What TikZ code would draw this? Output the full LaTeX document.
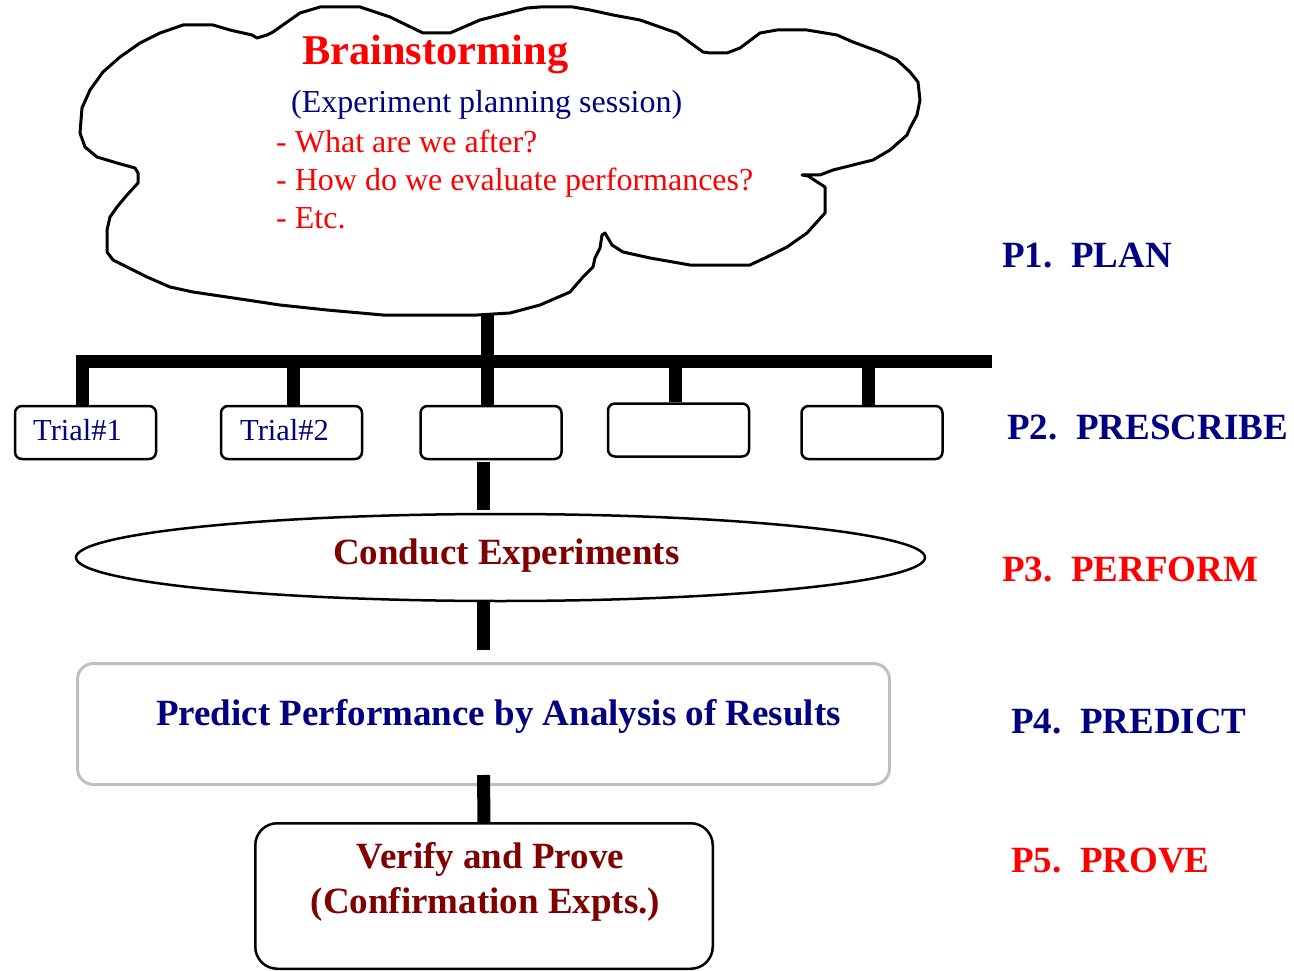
\documentclass[tikz,border=0pt]{standalone}
\usepackage{fontspec}
\setmainfont{Liberation Serif}
\usetikzlibrary{shapes.geometric}
\definecolor{navy}{RGB}{0,0,128}
\definecolor{maroon}{RGB}{128,0,0}
\definecolor{boxgray}{RGB}{191,191,191}

\begin{document}
\begin{tikzpicture}[x=1pt,y=-1pt,
  outline/.style={draw=black, line width=3pt, line join=round, fill=white},
  trialbox/.style={draw=black, line width=2.5pt, rounded corners=7pt,
    minimum width=141pt, minimum height=53pt, inner sep=0pt},
  bar/.style={line width=13pt, black, line cap=butt},
  big/.style={font=\fontsize{37}{44}\selectfont\bfseries, inner sep=0pt},
  body/.style={font=\fontsize{32}{38}\selectfont, inner sep=0pt, anchor=base west},
  trialtext/.style={font=\fontsize{30.5}{36}\selectfont, text=navy, inner sep=0pt, anchor=base west},
  phase/.style={big, anchor=base west},
]
\useasboundingbox (0,0) rectangle (1294,971);

% brainstorming cloud
\draw[outline] (320,7) -- (360,7) -- (390,17) -- (423,33) -- (450,33) -- (480,20)
  -- (527,8) -- (540,7) -- (573,7) -- (590,10) -- (613,15) -- (640,20) -- (677,33)
  -- (703,52) -- (710,53) -- (727,53) -- (740,48) -- (760,33) -- (777,30) -- (807,30)
  -- (837,35) -- (853,42) -- (880,52) -- (897,60) -- (910,72) -- (918,82) -- (920,100)
  -- (917,115) -- (910,128) -- (907,135) -- (890,150) -- (873,160) -- (853,165)
  -- (833,170) -- (820,175) -- (802,175) -- (808,176) -- (825,187) -- (825,213)
  -- (807,233) -- (787,247) -- (767,257) -- (750,265) -- (690,265) -- (650,258)
  -- (623,252) -- (612,245) -- (605,233) -- (602,235) -- (600,248) -- (595,258)
  -- (593,267) -- (583,277) -- (570,292) -- (540,305) -- (510,313) -- (477,315)
  -- (383,315) -- (327,310) -- (280,305) -- (247,300) -- (193,292) -- (170,287)
  -- (147,277) -- (127,267) -- (113,260) -- (107,252) -- (107,230) -- (110,217)
  -- (117,207) -- (127,195) -- (138,183) -- (138,173) -- (135,168) -- (117,163)
  -- (97,157) -- (85,147) -- (80,133) -- (82,108) -- (90,90) -- (103,72) -- (120,57)
  -- (140,43) -- (160,33) -- (183,25) -- (213,25) -- (230,30) -- (252,35) -- (257,38)
  -- (267,35) -- (273,32) -- (280,27) -- (300,13) -- cycle;
\coordinate (cloudfoot) at (487,315);

\node[big, anchor=base west, font=\fontsize{42.4}{50}\selectfont\bfseries, text=red] (title) at (302,65) {Brainstorming};
\node[body, text=navy] (session) at (291,113) {(Experiment planning session)};
\node[body, text=red] (q1) at (276,153) {- What are we after?};
\node[body, text=red] (q2) at (276,191) {- How do we evaluate performances?};
\node[body, text=red] (q3) at (276,229) {- Etc.};

% trial boxes
\node[trialbox] (t1) at (85.5,432.5) {};
\node[trialbox] (t2) at (291.5,432.5) {};
\node[trialbox] (t3) at (491,432.5) {};
\node[trialbox] (t4) at (678.5,430) {};
\node[trialbox] (t5) at (872,432.5) {};
\node[trialtext] (t1label) at (33,440) {Trial\#1};
\node[trialtext] (t2label) at (240,440) {Trial\#2};

% bus and stems
\coordinate (busL) at (75.5,361);
\coordinate (busR) at (992,361);
\coordinate (s1) at (82,361);
\coordinate (s2) at (293,361);
\coordinate (s4) at (675,361);
\coordinate (s5) at (868,361);
\draw[bar] (busL) -- (busR);
\draw[bar] (cloudfoot) -- (cloudfoot |- t3.north);
\draw[bar] (s1) -- (s1 |- t1.north);
\draw[bar] (s2) -- (s2 |- t2.north);
\draw[bar] (s4) -- (s4 |- t4.north);
\draw[bar] (s5) -- (s5 |- t5.north);

% perform
\node[draw=black, line width=2.5pt, ellipse, minimum width=849pt, minimum height=87pt, inner sep=0pt] (conduct) at (500.5,557.5) {};
\node[big, anchor=base west, text=maroon] (conducttext) at (333,564) {Conduct Experiments};

% predict
\node[draw=boxgray, line width=3pt, rounded corners=16pt, minimum width=812pt, minimum height=121pt, inner sep=0pt] (predict) at (483.5,724) {};
\node[big, anchor=base west, text=navy] (predicttext) at (156,725) {Predict Performance by Analysis of Results};

% prove
\node[draw=black, line width=2.5pt, rounded corners=22pt, minimum width=457.5pt, minimum height=145.5pt, inner sep=0pt] (verify) at (484,896) {};
\node[big, anchor=base, text=maroon] (verify1) at (490.5,868) {Verify and Prove};
\node[big, anchor=base, text=maroon] (verify2) at (485.5,913) {(Confirmation Expts.)};

% trunk between stages
\draw[bar] ([yshift=-2pt]t3.south -| predict.north) -- ([yshift=3pt]conduct.north -| predict.north);
\draw[bar] (conduct.south -| predict.north) -- ([yshift=12pt]predict.north);
\draw[bar] ([yshift=11pt]predict.south) -- (verify.north);

% phase labels
\node[phase, text=navy] (p1) at (1002,267) {P1.\ \ PLAN};
\node[phase, text=navy] (p2) at (1007,439) {P2.\ \ PRESCRIBE};
\node[phase, text=red] (p3) at (1002,581) {P3.\ \ PERFORM};
\node[phase, text=navy] (p4) at (1011,733) {P4.\ \ PREDICT};
\node[phase, text=red] (p5) at (1011,872) {P5.\ \ PROVE};
\end{tikzpicture}
\end{document}
